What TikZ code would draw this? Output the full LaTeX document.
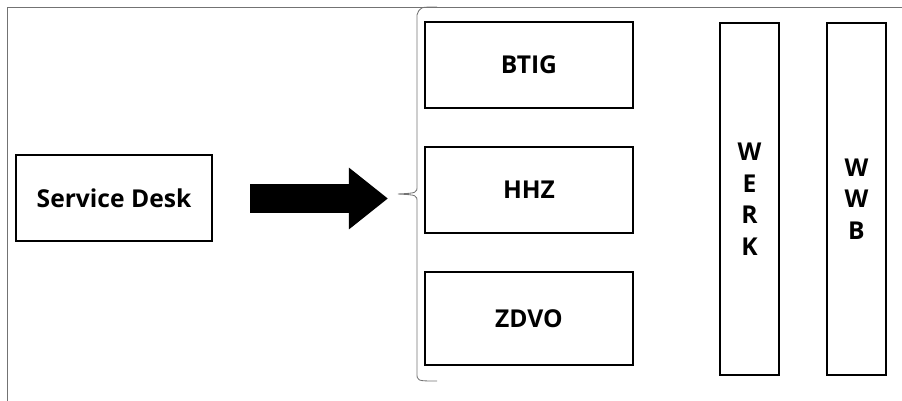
\documentclass[tikz,border=0pt]{standalone}
\usepackage{fontspec}
\setmainfont{Open Sans}
\usetikzlibrary{arrows.meta,positioning}

\tikzset{
  unitbox/.style={draw, line width=1.8pt, minimum width=5.2cm, minimum height=2.15cm,
    font=\fontsize{17.5}{22}\selectfont\bfseries, inner sep=0pt},
  pillar/.style={draw, line width=1.8pt, minimum width=1.475cm, minimum height=8.8cm,
    font=\fontsize{17.5}{22.4}\selectfont\bfseries, align=center, inner sep=0pt},
  bigarrow/.style={line width=0.725cm, -{Triangle[length=0.975cm, width=1.475cm]}},
  framegray/.style={draw=black!55, line width=0.6pt}
}

\begin{document}
\begin{tikzpicture}[x=0.025cm, y=-0.025cm]
    \useasboundingbox (0,0) rectangle (902,401);

    % outer frame (only top and left edges show)
    \draw [framegray] (7,401) -- (7,7) -- (902,7);

    \node [unitbox, minimum width=4.9cm] (sd) at (114,198) {Service Desk};

    \node [unitbox] (btig) at (529,65) {BTIG};
    \node [unitbox] (hhz) at (529,190) {HHZ};
    \node [unitbox, minimum height=2.325cm] (zdvo) at (529,318.5) {ZDVO};

    \node [pillar] (werk) at (749.5,199) {W\\E\\R\\K};
    \node [pillar] (wwb) at (856.5,199) {W\\W\\B};

    % brace
    \coordinate (tip) at (398,194);
    \draw [framegray] (437,7) .. controls (420,7) .. (417,15) -- (417,186)
        .. controls (417,193) .. (tip)
        .. controls (417,195) .. (417,202) -- (417,373)
        .. controls (417,381) .. (437,381);

    \draw [bigarrow, shorten <=0.925cm, shorten >=0.25cm] ([yshift=-0.5*0.025cm]sd.east) -- ([yshift=-0.5*0.025cm]sd.east -| tip);
  \end{tikzpicture}
\end{document}
